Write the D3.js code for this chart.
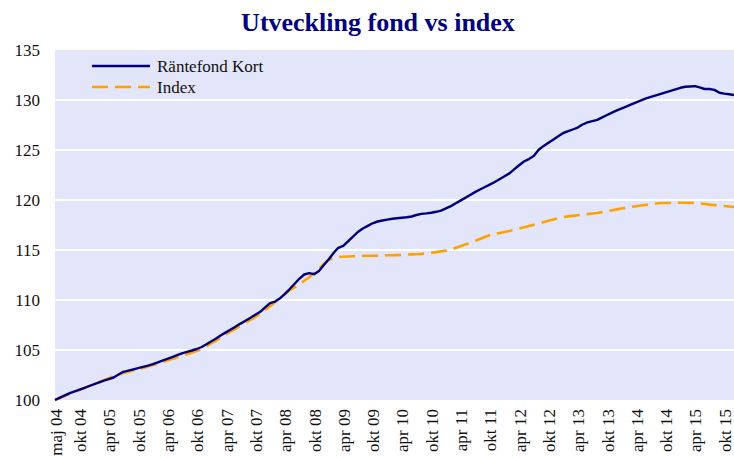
<!DOCTYPE html>
<html>
<head>
<meta charset="utf-8">
<script src="https://cdn.jsdelivr.net/npm/d3@7"></script>
<style>
  html, body { margin: 0; padding: 0; background: #ffffff; }
  svg { display: block; }
  text { font-family: "Liberation Serif", "DejaVu Serif", serif; }
</style>
</head>
<body>
<svg id="chart" width="734" height="458"></svg>
<script>
// Monthly observations, maj 2004 – dec 2015
const startYear = 2004, startMonth = 4; // maj (0-based month)

const fondValues = [
  100.00,100.23,100.46,100.69,100.87,101.04,101.22,101.40,101.58,101.76,
  101.93,102.09,102.25,102.55,102.82,102.94,103.07,103.19,103.32,103.44,
  103.59,103.77,103.94,104.11,104.29,104.48,104.66,104.81,104.95,105.10,
  105.30,105.58,105.88,106.17,106.47,106.76,107.05,107.34,107.64,107.93,
  108.22,108.52,108.82,109.26,109.69,109.84,110.14,110.58,111.07,111.60,
  112.12,112.55,112.68,112.58,112.91,113.49,114.08,114.72,115.22,115.41,
  115.87,116.34,116.80,117.15,117.41,117.67,117.85,117.95,118.04,118.12,
  118.17,118.22,118.27,118.35,118.50,118.61,118.66,118.72,118.82,118.94,
  119.17,119.39,119.65,119.94,120.21,120.50,120.79,121.05,121.30,121.54,
  121.80,122.08,122.37,122.66,123.06,123.47,123.85,124.09,124.39,125.02,
  125.41,125.73,126.05,126.38,126.70,126.88,127.05,127.24,127.55,127.76,
  127.89,128.01,128.26,128.50,128.74,128.96,129.16,129.36,129.56,129.76,
  129.96,130.16,130.32,130.47,130.62,130.77,130.92,131.07,131.22,131.32,
  131.35,131.39,131.26,131.10,131.10,131.01,130.73,130.64,130.57,130.50
];

const indexValues = [
  100.00,100.20,100.40,100.61,100.80,101.00,101.20,101.41,101.61,101.81,
  101.99,102.17,102.36,102.54,102.69,102.82,102.95,103.08,103.21,103.34,
  103.49,103.64,103.80,103.96,104.11,104.27,104.42,104.58,104.74,104.89,
  105.10,105.38,105.68,105.97,106.27,106.56,106.85,107.14,107.44,107.73,
  108.02,108.32,108.62,109.01,109.39,109.78,110.18,110.57,110.96,111.25,
  111.57,111.92,112.28,112.69,113.16,113.60,114.02,114.16,114.30,114.32,
  114.35,114.37,114.39,114.41,114.42,114.43,114.44,114.46,114.47,114.48,
  114.49,114.50,114.53,114.56,114.58,114.61,114.66,114.72,114.79,114.86,
  114.94,115.02,115.20,115.37,115.54,115.71,115.90,116.10,116.30,116.49,
  116.59,116.69,116.79,116.89,117.01,117.14,117.27,117.40,117.53,117.66,
  117.79,117.92,118.05,118.17,118.30,118.36,118.41,118.47,118.53,118.59,
  118.65,118.70,118.79,118.88,118.97,119.06,119.15,119.24,119.32,119.38,
  119.45,119.51,119.58,119.65,119.70,119.70,119.71,119.72,119.72,119.72,
  119.71,119.70,119.65,119.60,119.54,119.49,119.44,119.40,119.35,119.30
];

const seriesNames = ["Räntefond Kort", "Index"];
const tickLabels = [
  "maj 04","okt 04","apr 05","okt 05","apr 06","okt 06","apr 07","okt 07",
  "apr 08","okt 08","apr 09","okt 09","apr 10","okt 10","apr 11","okt 11",
  "apr 12","okt 12","apr 13","okt 13","apr 14","okt 14","apr 15","okt 15"
];
const yTicks = [100, 105, 110, 115, 120, 125, 130, 135];
const titleText = "Utveckling fond vs index";

const monthNames = ["jan","feb","mar","apr","maj","jun","jul","aug","sep","okt","nov","dec"];
const parseLabel = s => {
  const [m, y] = s.split(" ");
  return new Date(2000 + (+y), monthNames.indexOf(m), 1);
};

const dates = fondValues.map((_, i) => new Date(startYear, startMonth + i, 1));
const rows = dates.map((d, i) => ({ date: d, fond: fondValues[i], index: indexValues[i] }));

const svg = d3.select("#chart");
const margin = { left: 55, right: 0, top: 50, bottom: 58 };
const W = 734, H = 458;
const labelSize = 17;

const x = d3.scaleTime()
  .domain([dates[0], dates[dates.length - 1]])
  .range([margin.left, W - margin.right]);
const y = d3.scaleLinear()
  .domain([100, 135])
  .range([H - margin.bottom, margin.top]);

// plot background
svg.append("rect")
  .attr("x", margin.left)
  .attr("y", y(135))
  .attr("width", W - margin.right - margin.left)
  .attr("height", y(100) - y(135))
  .attr("fill", "#e3e5fa");

// horizontal gridlines
svg.append("g")
  .selectAll("line")
  .data(yTicks.filter(v => v > 100 && v < 135))
  .join("line")
  .attr("x1", margin.left)
  .attr("x2", W - margin.right)
  .attr("y1", d => y(d))
  .attr("y2", d => y(d))
  .attr("stroke", "#ffffff")
  .attr("stroke-width", 2.2);

// y axis labels
const yAxis = svg.append("g")
  .attr("transform", `translate(${margin.left},0)`)
  .call(d3.axisLeft(y).tickValues(yTicks).tickSize(0).tickPadding(15).tickFormat(d3.format("d")));
yAxis.select(".domain").remove();
yAxis.selectAll("text")
  .attr("font-family", "Liberation Serif, serif")
  .attr("font-size", labelSize)
  .attr("fill", "#111");

// x axis labels, rotated
const tickDates = tickLabels.map(parseLabel);
const xAxis = svg.append("g")
  .attr("transform", `translate(0,${y(100)})`)
  .call(d3.axisBottom(x).tickValues(tickDates).tickSize(0)
    .tickFormat((d, i) => tickLabels[i]));
xAxis.select(".domain").remove();
xAxis.selectAll("text")
  .attr("font-family", "Liberation Serif, serif")
  .attr("font-size", labelSize)
  .attr("fill", "#111")
  .attr("text-anchor", "end")
  .attr("transform", "rotate(-90)")
  .attr("x", -9)
  .attr("y", 0)
  .attr("dy", "0.36em");

// lines
const lineFond = d3.line().x(d => x(d.date)).y(d => y(d.fond));
const lineIndex = d3.line().x(d => x(d.date)).y(d => y(d.index));

svg.append("path")
  .datum(rows)
  .attr("d", lineIndex)
  .attr("fill", "none")
  .attr("stroke", "#ffa200")
  .attr("stroke-width", 2.6)
  .attr("stroke-dasharray", "16,7");

svg.append("path")
  .datum(rows)
  .attr("d", lineFond)
  .attr("fill", "none")
  .attr("stroke", "#00007f")
  .attr("stroke-width", 2.4)
  .attr("stroke-linejoin", "round");

// legend
const legend = svg.append("g");
const legendItems = [
  { name: seriesNames[0], color: "#00007f", dash: null, yy: 66 },
  { name: seriesNames[1], color: "#ffa200", dash: "16,7", yy: 87 }
];
legendItems.forEach(it => {
  legend.append("line")
    .attr("x1", 92).attr("x2", 150)
    .attr("y1", it.yy).attr("y2", it.yy)
    .attr("stroke", it.color)
    .attr("stroke-width", 2.4)
    .attr("stroke-dasharray", it.dash);
  legend.append("text")
    .attr("x", 157).attr("y", it.yy)
    .attr("dy", "0.35em")
    .attr("font-size", labelSize)
    .attr("fill", "#111")
    .text(it.name);
});

// title
svg.append("text")
  .attr("x", 378)
  .attr("y", 31)
  .attr("text-anchor", "middle")
  .attr("font-size", 26)
  .attr("font-weight", "bold")
  .attr("fill", "#000080")
  .text(titleText);
</script>
</body>
</html>
